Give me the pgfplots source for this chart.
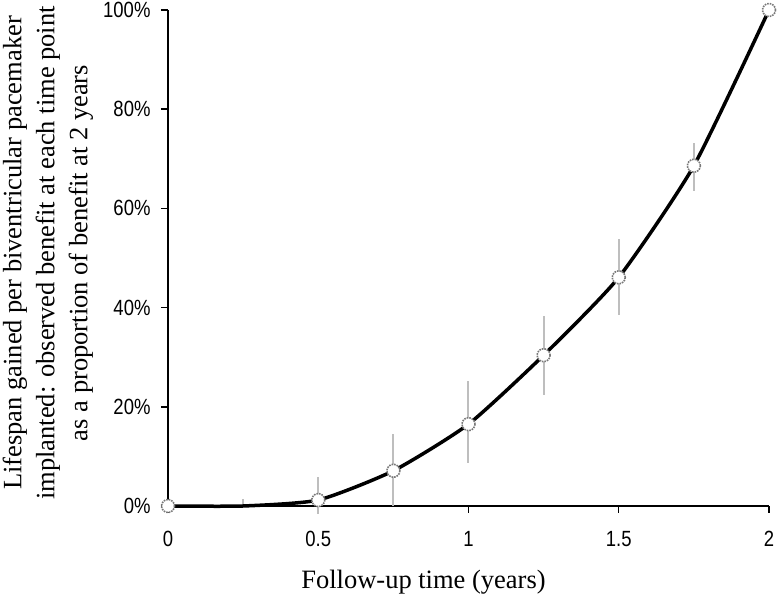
\documentclass[border=0pt]{standalone}
\usepackage{pgfplots}
\pgfplotsset{compat=1.18}
\usepackage{fontspec}
\setmainfont{Liberation Serif}
\newfontfamily\ticksans[FakeStretch=0.84]{Liberation Sans}
\definecolor{errgray}{RGB}{190,190,190}
\definecolor{mkgray}{RGB}{120,120,120}
\begin{document}
\begin{tikzpicture}
\useasboundingbox (-168pt,-90pt) rectangle (612pt,506pt);
\begin{axis}[
  at={(0,0)}, anchor=south west,
  scale only axis, width=601pt, height=496pt,
  xmin=0, xmax=2, ymin=0, ymax=100,
  axis lines*=left,
  axis line style={line width=1.5pt, black},
  every tick/.style={line width=1.5pt, black},
  tick align=outside, major tick length=7pt,
  xtick={0,0.5,1,1.5,2}, ytick={0,20,40,60,80,100},
  xticklabels={0,0.5,1,1.5,2},
  yticklabel={\pgfmathprintnumber{\tick}\%},
  /pgf/number format/assume math mode=true,
  /pgf/number format/fixed,
  tick label style={font=\ticksans\fontsize{22}{22}\selectfont},
  xticklabel style={yshift=-15pt},
  yticklabel style={xshift=-7pt},
  clip=false,
  xlabel={Follow-up time (years)},
  xlabel style={font=\fontsize{26.5}{30}\selectfont, at={(axis description cs:0.5,0)}, anchor=base, yshift=-83pt, xshift=-45pt},
  ylabel={Lifespan gained per biventricular pacemaker\\implanted: observed benefit at each time point\\as a proportion of benefit at 2 years},
  ylabel style={font=\fontsize{26.5}{33}\selectfont, align=center, at={(axis description cs:-0.2,0.51)}, anchor=center},
]
% error bars
\addplot[draw=none, mark=none, error bars/.cd, y dir=both, y explicit, error mark=none,
  error bar style={errgray, line width=2pt}]
  coordinates {
  (0.25,0) += (0,1.4) -= (0,0)
  (0.5,1.2) += (0,4.7) -= (0,2.8)
  (0.75,7.1) += (0,7.4) -= (0,7.1)
  (1.0,16.5) += (0,8.7) -= (0,7.8)
  (1.25,30.4) += (0,8.0) -= (0,8.1)
  (1.5,46.1) += (0,7.8) -= (0,7.5)
  (1.75,68.6) += (0,4.6) -= (0,5.0)
  };
% line
\addplot[black, line width=3.5pt, smooth, tension=0.35, mark=none] coordinates {
  (0,0) (0.25,0) (0.5,1.2) (0.75,7.1) (1.0,16.5) (1.25,30.4) (1.5,46.1) (1.75,68.6) (2,100)
};
% markers
\addplot[only marks, mark=*, mark size=6.5pt,
  mark options={fill=white, draw=mkgray, line width=1.6pt, densely dotted}] coordinates {
  (0,0) (0.5,1.2) (0.75,7.1) (1.0,16.5) (1.25,30.4) (1.5,46.1) (1.75,68.6) (2,100)
};
\end{axis}
\end{tikzpicture}
\end{document}
